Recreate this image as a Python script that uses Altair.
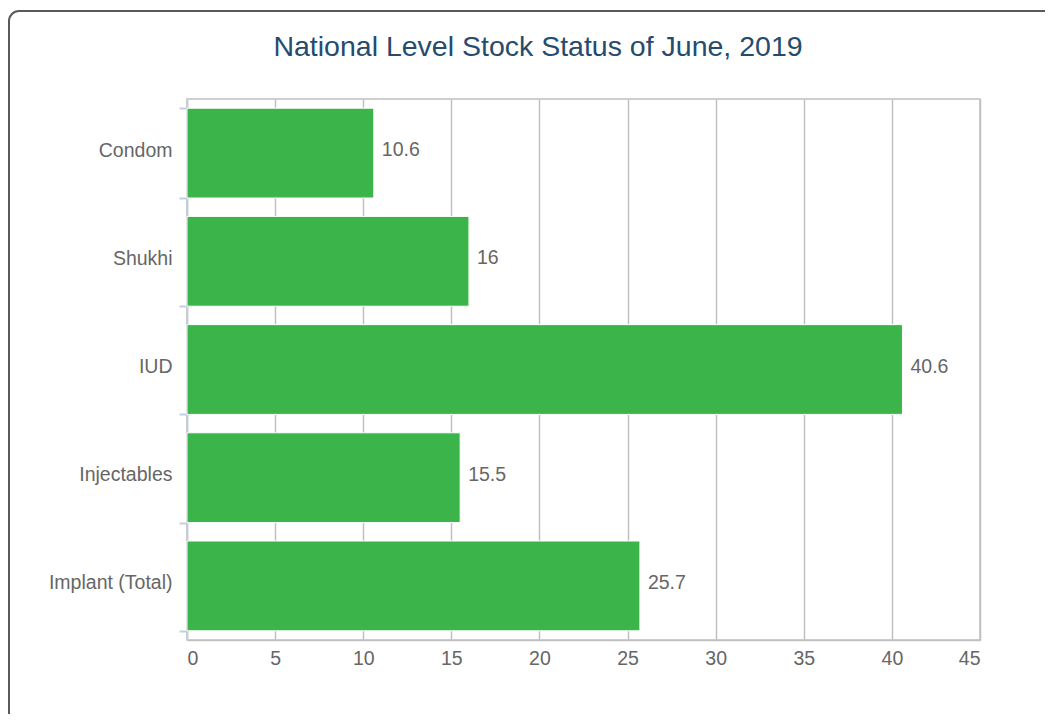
import altair as alt
import pandas as pd

categories = ["Condom", "Shukhi", "IUD", "Injectables", "Implant (Total)"]
values = [10.6, 16, 40.6, 15.5, 25.7]
x_ticks = [0, 5, 10, 15, 20, 25, 30, 35, 40, 45]
title_text = "National Level Stock Status of June, 2019"

df = pd.DataFrame({"category": categories, "value": values})
frame_df = pd.DataFrame({"k": [0]})

FONT = "Liberation Sans"
GREY = "#666666"

y_scale = alt.Scale(domain=categories, paddingInner=0.17, paddingOuter=0.085)
x_scale = alt.Scale(domain=[0, 45], nice=False, zero=True)

bars = alt.Chart(df).mark_bar(color="#3bb54a", stroke="white", strokeWidth=1).encode(
    y=alt.Y("category:N", sort=None, scale=y_scale,
            axis=alt.Axis(title=None, ticks=True, tickBand="extent", tickSize=8,
                          tickColor="#c0d0e0", tickWidth=2, labelPadding=7,
                          labelFontSize=19.5, labelColor=GREY, labelFont=FONT,
                          domainColor="#c0d0e0", domainWidth=1.5, grid=False,
                          labelOffset=-3)),
    x=alt.X("value:Q", scale=x_scale,
            axis=alt.Axis(title=None, values=x_ticks, ticks=False, labelPadding=9,
                          labelFontSize=19.5, labelColor=GREY, labelFont=FONT,
                          labelFlush=True, grid=True, gridColor="#c0c0c0",
                          gridWidth=1.5, domainColor="#c0c0c0", domainWidth=1.5)),
)

labels = alt.Chart(df).mark_text(align="left", baseline="middle", dx=8, dy=-3,
                                 fontSize=19.5, font=FONT, color=GREY).encode(
    y=alt.Y("category:N", sort=None, scale=y_scale),
    x=alt.X("value:Q", scale=x_scale),
    text=alt.Text("value:Q"),
)

frame = alt.Chart(frame_df).mark_rect(
    fillOpacity=0, stroke="#5a5a5a", strokeWidth=2, cornerRadius=10, clip=False
).encode(
    x=alt.value(-178), x2=alt.value(950),
    y=alt.value(-88), y2=alt.value(700),
)

chart = alt.layer(frame, bars, labels).properties(
    width=793,
    height=541,
    padding={"left": 179, "top": 91, "right": 65, "bottom": 74},
    autosize=alt.AutoSizeParams(type="none"),
    title=alt.TitleParams(title_text, fontSize=28.5, font=FONT, fontWeight="normal",
                          color="#274b6d", anchor="middle", dx=-45.5, offset=-51),
).configure_view(stroke="#c0c0c0", strokeWidth=1.5)

chart.save("out.html", embed_options={"renderer": "svg", "actions": False})
